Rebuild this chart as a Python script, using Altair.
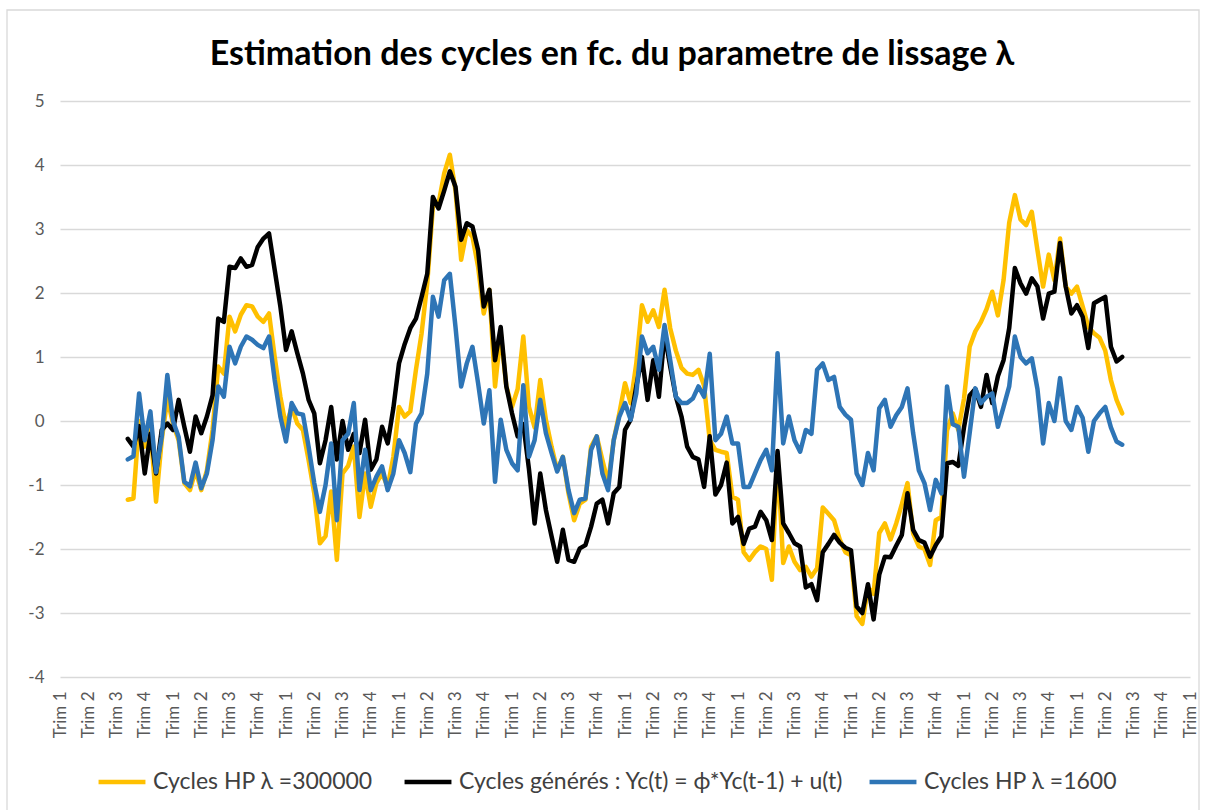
import altair as alt
import pandas as pd

# First quarter index that carries data (index 0 is the first "Trim 1" on the axis)
start_index = 12
n_periods = 201

quarter_names = ["Trim 1", "Trim 2", "Trim 3", "Trim 4"]

series_names = [
    "Cycles HP  λ =300000",
    "Cycles générés : Yc(t) = ϕ*Yc(t-1) + u(t)",
    "Cycles HP λ =1600",
]
series_colors = ["#FFC000", "#000000", "#2E75B6"]

hp_300000 = [
    -1.23, -1.21, 0.0, -0.4, -0.1, -1.26, -0.3, 0.35, -0.04, -0.3,
    -0.97, -1.08, -0.77, -1.08, -0.77, -0.14, 0.85, 0.74, 1.63, 1.4,
    1.66, 1.81, 1.79, 1.63, 1.55, 1.68, 1.0, 0.38, -0.09, 0.22,
    -0.04, -0.14, -0.61, -1.13, -1.91, -1.8, -1.1, -2.17, -0.82, -0.7,
    -0.4, -1.5, -0.82, -1.34, -0.97, -0.82, -1.03, -0.56, 0.22, 0.07,
    0.15, 0.8, 1.37, 2.15, 3.35, 3.4, 3.87, 4.16, 3.6, 2.52,
    2.98, 2.88, 2.41, 1.68, 2.05, 0.54, 1.37, 0.54, 0.22, 0.5,
    1.32, 0.22, -0.1, 0.64, 0.02, -0.4, -0.77, -0.56, -1.13, -1.55,
    -1.29, -1.23, -0.4, -0.24, -0.61, -0.97, -0.3, 0.12, 0.59, 0.28,
    0.9, 1.81, 1.55, 1.73, 1.47, 2.05, 1.45, 1.1, 0.83, 0.74,
    0.72, 0.8, 0.55, -0.3, -0.45, -0.48, -0.5, -1.18, -1.23, -2.05,
    -2.17, -2.05, -1.96, -2.0, -2.48, -0.55, -2.22, -1.96, -2.2, -2.33,
    -2.28, -2.43, -2.3, -1.35, -1.45, -1.55, -1.85, -2.05, -2.1, -3.05,
    -3.17, -2.6, -2.7, -1.75, -1.6, -1.85, -1.6, -1.3, -0.97, -1.76,
    -1.96, -2.0, -2.25, -1.55, -1.5, -0.15, 0.12, -0.14, 0.35, 1.16,
    1.4, 1.55, 1.75, 2.02, 1.65, 2.2, 3.1, 3.53, 3.15, 3.06,
    3.27, 2.67, 2.1, 2.6, 2.2, 2.85, 2.1, 1.99, 2.1, 1.79,
    1.47, 1.37, 1.3, 1.1, 0.64, 0.33, 0.12,
]

generated = [
    -0.28, -0.4, -0.08, -0.82, -0.2, -0.82, -0.14, -0.04, -0.14, 0.33,
    -0.09, -0.48, 0.07, -0.19, 0.07, 0.4, 1.6, 1.55, 2.41, 2.39,
    2.54, 2.41, 2.44, 2.72, 2.85, 2.93, 2.36, 1.79, 1.11, 1.4,
    1.06, 0.74, 0.33, 0.12, -0.66, -0.3, 0.22, -0.6, 0.0, -0.45,
    -0.2, -0.5, 0.02, -0.76, -0.6, -0.09, -0.35, 0.2, 0.9, 1.2,
    1.45, 1.6, 1.94, 2.3, 3.5, 3.32, 3.6, 3.9, 3.66, 2.83,
    3.09, 3.04, 2.67, 1.79, 2.05, 0.95, 1.47, 0.54, 0.12, -0.24,
    -0.05, -0.75, -1.6, -0.82, -1.39, -1.8, -2.2, -1.7, -2.17, -2.2,
    -1.99, -1.94, -1.65, -1.29, -1.23, -1.6, -1.13, -1.03, -0.14, 0.02,
    0.54, 1.0, 0.33, 0.95, 0.38, 1.37, 0.85, 0.38, 0.07, -0.4,
    -0.56, -0.6, -1.03, -0.24, -1.15, -1.0, -0.65, -1.6, -1.5, -1.92,
    -1.68, -1.65, -1.42, -1.55, -1.86, -0.47, -1.6, -1.75, -1.91, -1.96,
    -2.6, -2.55, -2.8, -2.05, -1.92, -1.78, -1.9, -1.98, -2.02, -2.9,
    -3.0, -2.55, -3.1, -2.4, -2.12, -2.13, -1.95, -1.78, -1.13, -1.7,
    -1.86, -1.9, -2.12, -1.94, -1.8, -0.66, -0.64, -0.7, -0.1, 0.4,
    0.5, 0.22, 0.72, 0.28, 0.7, 0.95, 1.45, 2.39, 2.15, 1.99,
    2.23, 2.1, 1.6, 1.99, 2.02, 2.78, 2.1, 1.68, 1.81, 1.63,
    1.14, 1.84, 1.89, 1.94, 1.16, 0.93, 1.0,
]

hp_1600 = [
    -0.6, -0.55, 0.43, -0.3, 0.15, -0.8, -0.25, 0.72, 0.0, -0.25,
    -0.95, -1.02, -0.65, -1.05, -0.82, -0.3, 0.54, 0.38, 1.16, 0.9,
    1.16, 1.32, 1.27, 1.19, 1.14, 1.32, 0.64, 0.07, -0.32, 0.28,
    0.12, 0.1, -0.4, -0.97, -1.42, -1.0, -0.35, -1.55, -0.3, -0.2,
    0.28, -1.08, -0.45, -1.08, -0.87, -0.71, -1.08, -0.82, -0.3, -0.5,
    -0.8, -0.04, 0.12, 0.74, 1.94, 1.63, 2.2, 2.3, 1.47, 0.54,
    0.9, 1.16, 0.59, -0.04, 0.48, -0.95, 0.02, -0.45, -0.66, -0.77,
    0.56, -0.56, -0.3, 0.33, -0.19, -0.5, -0.79, -0.56, -1.08, -1.44,
    -1.23, -1.21, -0.45, -0.24, -0.82, -1.08, -0.3, 0.07, 0.28, 0.02,
    0.43, 1.32, 1.06, 1.16, 0.8, 1.5, 0.95, 0.38, 0.28, 0.28,
    0.35, 0.54, 0.38, 1.05, -0.3, -0.2, 0.07, -0.35, -0.35, -1.03,
    -1.03, -0.82, -0.61, -0.45, -0.77, 1.06, -0.35, 0.07, -0.3, -0.48,
    -0.14, -0.2, 0.8, 0.9, 0.64, 0.69, 0.22, 0.1, 0.02, -0.82,
    -1.0, -0.5, -0.77, 0.2, 0.33, -0.09, 0.09, 0.22, 0.51, -0.19,
    -0.77, -0.97, -1.39, -0.92, -1.13, 0.54, -0.05, -0.09, -0.87, -0.19,
    0.51, 0.28, 0.38, 0.43, -0.09, 0.22, 0.54, 1.32, 1.0, 0.9,
    0.98, 0.5, -0.35, 0.28, 0.0, 0.67, 0.0, -0.14, 0.22, 0.05,
    -0.48, 0.0, 0.12, 0.22, -0.1, -0.32, -0.37,
]

FONT = "Lato"

rows = []
for name, values in zip(series_names, [hp_300000, generated, hp_1600]):
    for k, v in enumerate(values):
        rows.append({"periode": start_index + k, "serie": name, "valeur": v})
df = pd.DataFrame(rows)

color_scale = alt.Scale(domain=series_names, range=series_colors)

x_enc = alt.X(
    "periode:Q",
    scale=alt.Scale(domain=[0, n_periods - 1], nice=False, zero=False),
    axis=alt.Axis(
        values=list(range(0, n_periods, 5)),
        labelExpr="%s[datum.value %% 4]" % str(quarter_names),
        labelAngle=-90,
        labelAlign="right",
        labelBaseline="middle",
        labelPadding=14,
        labelFontSize=17,
        labelColor="#595959",
        labelFont=FONT,
        labelOverlap=False,
        ticks=False,
        domain=False,
        grid=False,
        title=None,
    ),
)

y_enc = alt.Y(
    "valeur:Q",
    scale=alt.Scale(domain=[-4, 5], nice=False, zero=False),
    axis=alt.Axis(
        values=list(range(-4, 6)),
        labelExpr="'' + datum.value",
        labelFontSize=17,
        labelColor="#595959",
        labelFont=FONT,
        labelPadding=16,
        ticks=False,
        domain=False,
        grid=True,
        gridColor="#D9D9D9",
        gridWidth=1.3,
        title=None,
    ),
)

# Light border around the whole chart area
frame = (
    alt.Chart(pd.DataFrame({"cadre": [0]}))
    .mark_rect(fillOpacity=0, stroke="#D9D9D9", strokeWidth=1.3)
    .encode(
        x=alt.value(-53),
        x2=alt.value(1139),
        y=alt.value(-91),
        y2=alt.value(716),
    )
)

layers = [frame]
for i, name in enumerate(series_names):
    layer = (
        alt.Chart(df)
        .transform_filter(alt.datum.serie == name)
        .mark_line(strokeWidth=4.5, strokeJoin="round", strokeCap="round")
        .encode(
            x=x_enc,
            y=y_enc,
            color=alt.Color(
                "serie:N",
                scale=color_scale,
                legend=alt.Legend(
                    title=None,
                    orient="none",
                    direction="horizontal",
                    legendX=36,
                    legendY=655,
                    symbolType="stroke",
                    symbolSize=2200,
                    symbolStrokeWidth=4.5,
                    labelFontSize=23,
                    labelFont=FONT,
                    labelColor="#404040",
                    labelOffset=5,
                    columnPadding=16,
                    labelLimit=700,
                ),
            ),
        )
    )
    layers.append(layer)

chart = (
    alt.layer(*layers)
    .properties(
        width=1130,
        height=576,
        title=alt.TitleParams(
            "Estimation des cycles en fc. du parametre de lissage λ",
            font=FONT,
            fontSize=34,
            fontWeight="bold",
            color="#000000",
            anchor="middle",
            frame="group",
            dx=-13,
            dy=90,
            offset=0,
            baseline="alphabetic",
        ),
        padding={"left": 60, "top": 101, "right": 15, "bottom": 133},
        autosize=alt.AutoSizeParams(type="none"),
        background="white",
    )
    .configure_view(stroke=None)
)

chart.save("out.html", embed_options={"renderer": "svg", "actions": False})
